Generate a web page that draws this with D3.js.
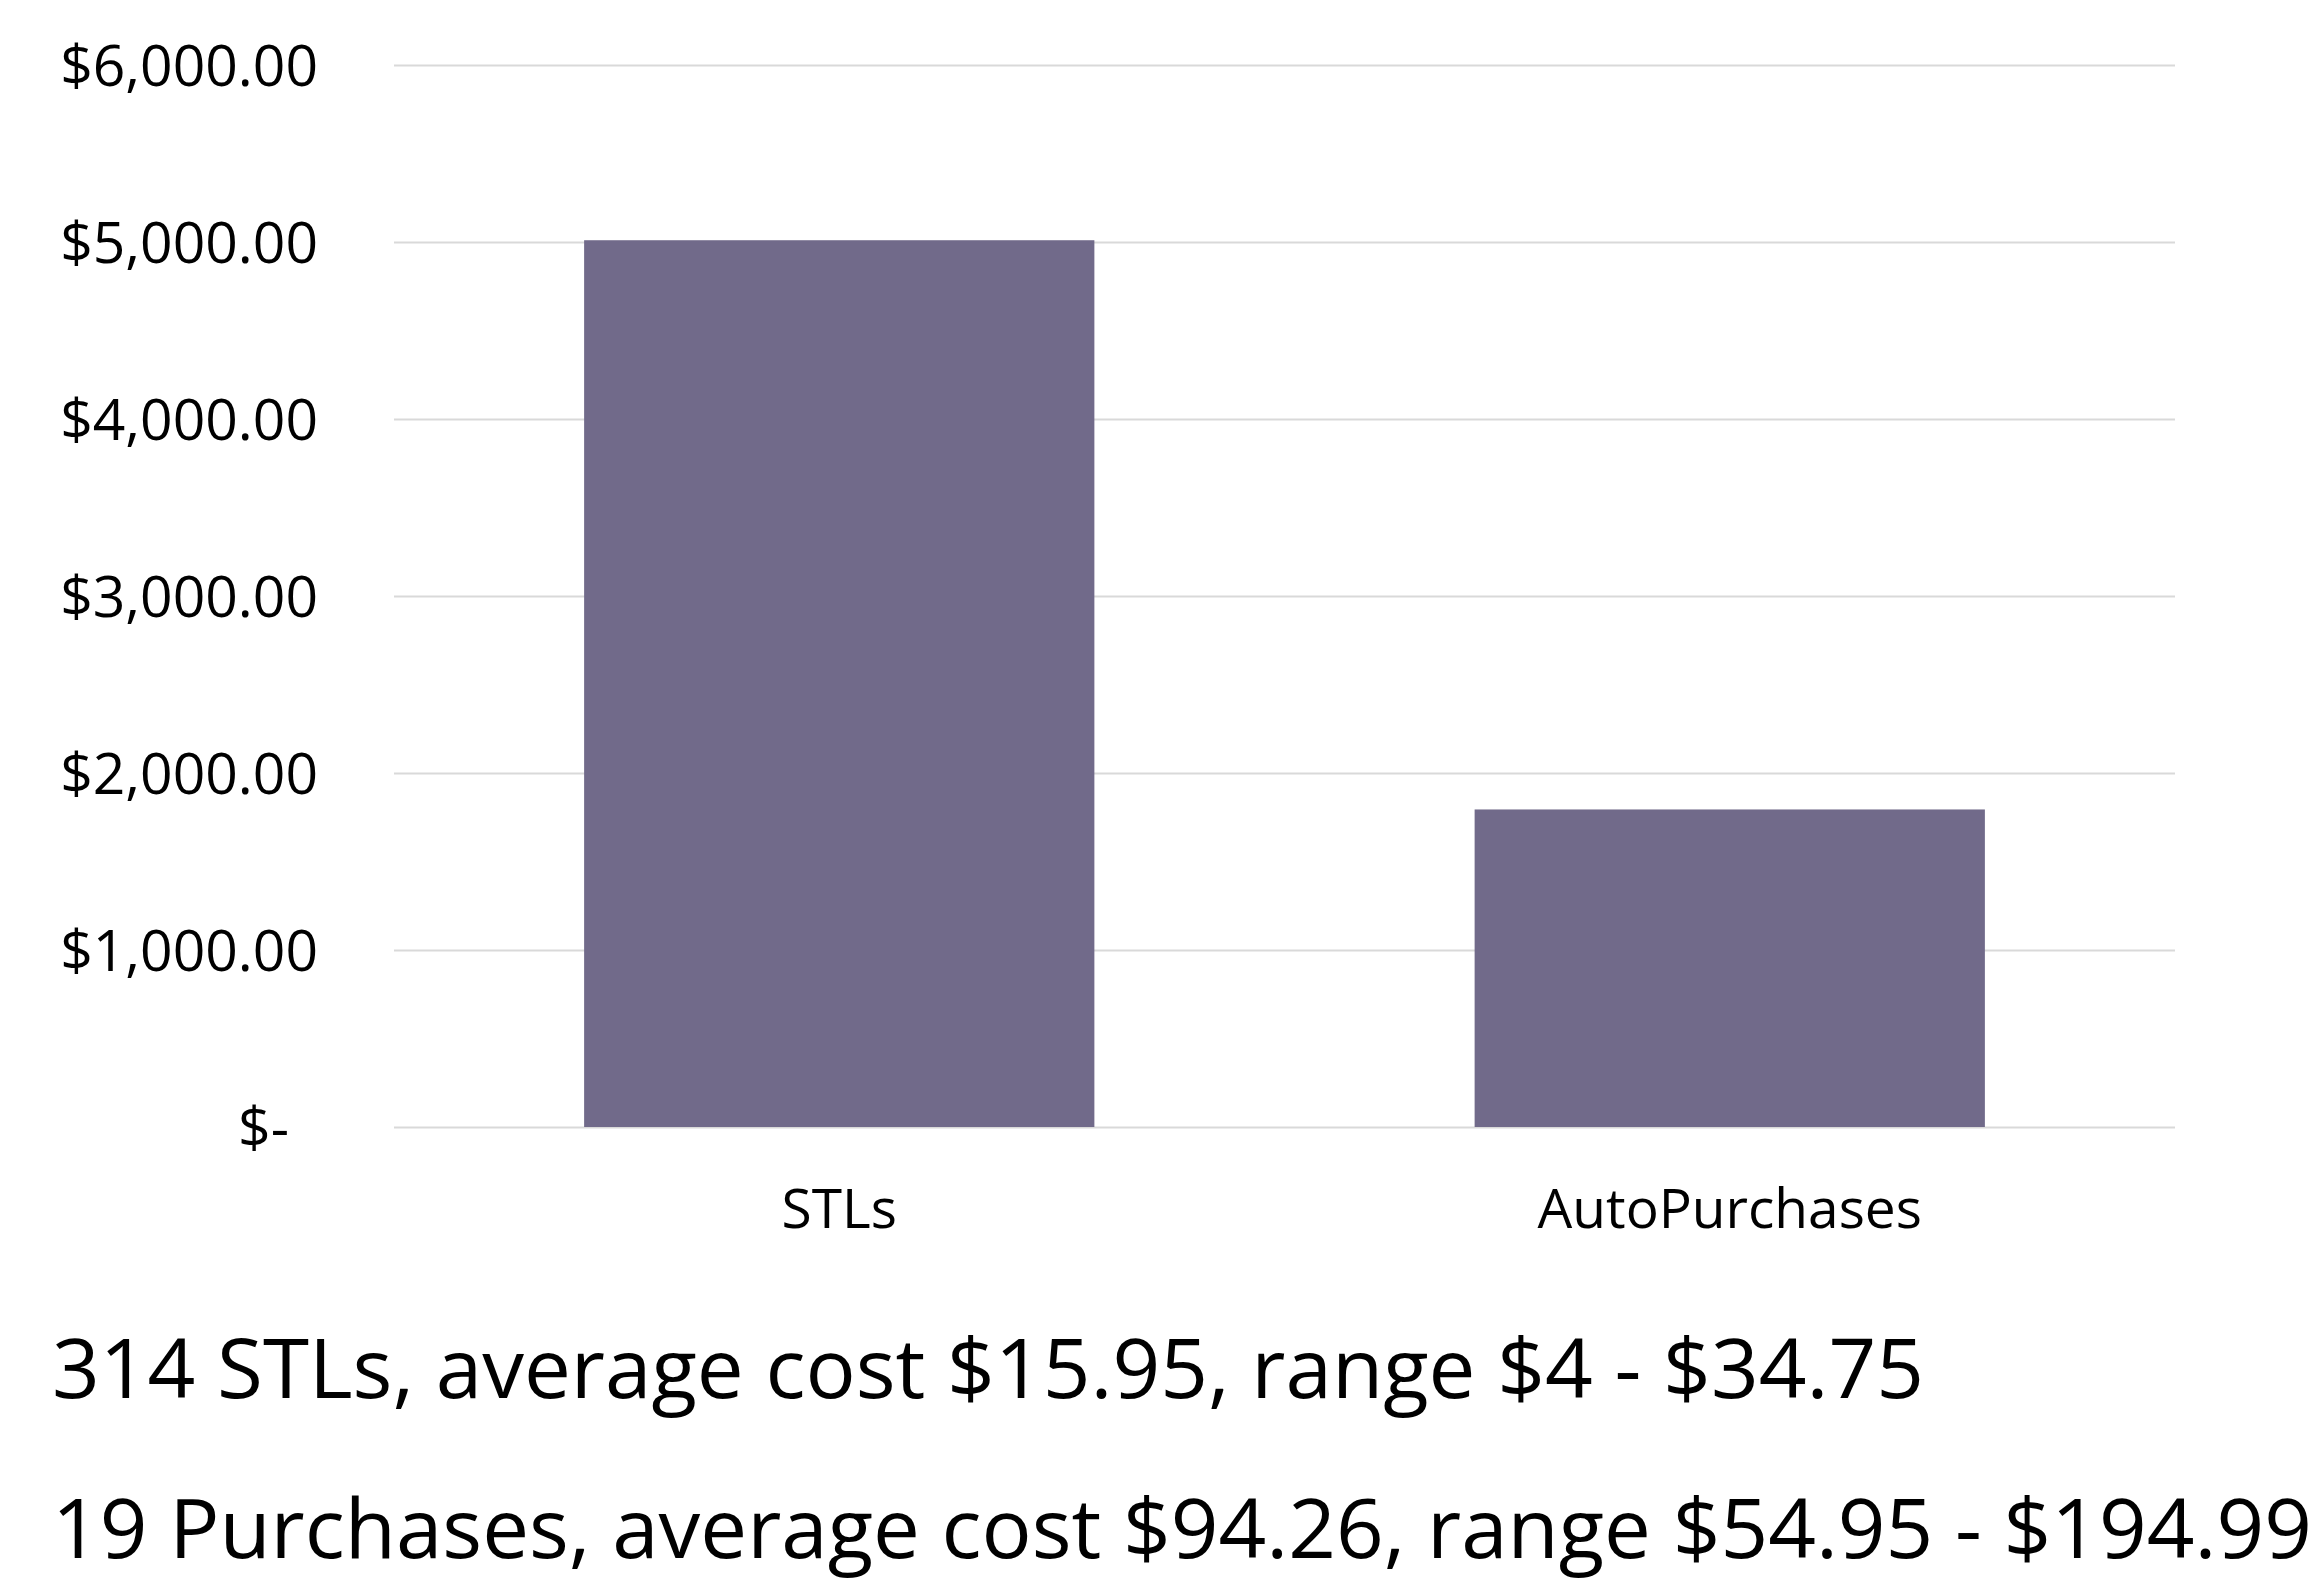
<!DOCTYPE html>
<html>
<head>
<meta charset="utf-8">
<script src="https://cdn.jsdelivr.net/npm/d3@7"></script>
<style>
  body { margin: 0; background: #fff; }
  svg text { font-family: "Open Sans", sans-serif; fill: #000; }
</style>
</head>
<body>
<div id="chart"></div>
<script>
// data
const categories = ["STLs", "AutoPurchases"]
const totals = [5010, 1794]
const yTicks = [0, 1000, 2000, 3000, 4000, 5000, 6000]
const notes = [
    "314 STLs, average cost $15.95, range $4 - $34.75",
    "19 Purchases, average cost $94.26, range $54.95 - $194.99"
]

const width = 2324, height = 1585
const margin = {top: 65, left: 394, right: 149, bottom: 458}
const plotW = width - margin.left - margin.right
const plotH = height - margin.top - margin.bottom

let svg = d3.select("#chart").append("svg")
    .attr("width", width)
    .attr("height", height)

let g = svg.append("g")
    .attr("transform", `translate(${margin.left}, ${margin.top})`)

let x = d3.scaleBand()
    .domain(categories)
    .range([0, plotW])
    .paddingInner(0.427)
    .paddingOuter(0.2135)

let y = d3.scaleLinear()
    .domain([0, 6000])
    .range([plotH, 0])

// Gridlines + y labels
let money = d3.format("$,.2f")
let yAxis = d3.axisLeft(y)
    .tickValues(yTicks)
    .tickSize(-plotW)
    .tickPadding(76)
    .tickFormat(d => d === 0 ? "$-" : money(d))

let yG = g.append("g").call(yAxis)
yG.select(".domain").remove()
yG.selectAll("line").attr("stroke", "#d9d9d9").attr("stroke-width", 2)
yG.selectAll("text")
    .style("font-size", "57px")
    .attr("fill", "#000")
    .attr("dy", "0.36em")
    .filter(d => d === 0).attr("dx", -29)

// Bars
g.append("g").selectAll("rect")
    .data(totals)
    .enter()
    .append("rect")
    .attr("x", (d, i) => x(categories[i]))
    .attr("y", d => y(d))
    .attr("width", x.bandwidth())
    .attr("height", d => y(0) - y(d))
    .attr("fill", "#716a8a")

// Category labels
let xG = g.append("g")
    .attr("transform", `translate(0, ${plotH})`)
    .call(d3.axisBottom(x).tickSize(0))
xG.select(".domain").remove()
xG.selectAll("text")
    .style("font-size", "55px")
    .attr("fill", "#000")
    .attr("dy", null)
    .attr("y", 101)

// Notes under the chart
let noteY = [1398, 1558]
let noteW = [1872, 2260]
svg.append("g").selectAll("text")
    .data(notes)
    .enter()
    .append("text")
    .attr("x", 52)
    .attr("y", (d, i) => noteY[i])
    .style("font-size", "82px")
    .text(d => d)
    .attr("textLength", (d, i) => noteW[i])
    .attr("lengthAdjust", "spacingAndGlyphs")
</script>
</body>
</html>
